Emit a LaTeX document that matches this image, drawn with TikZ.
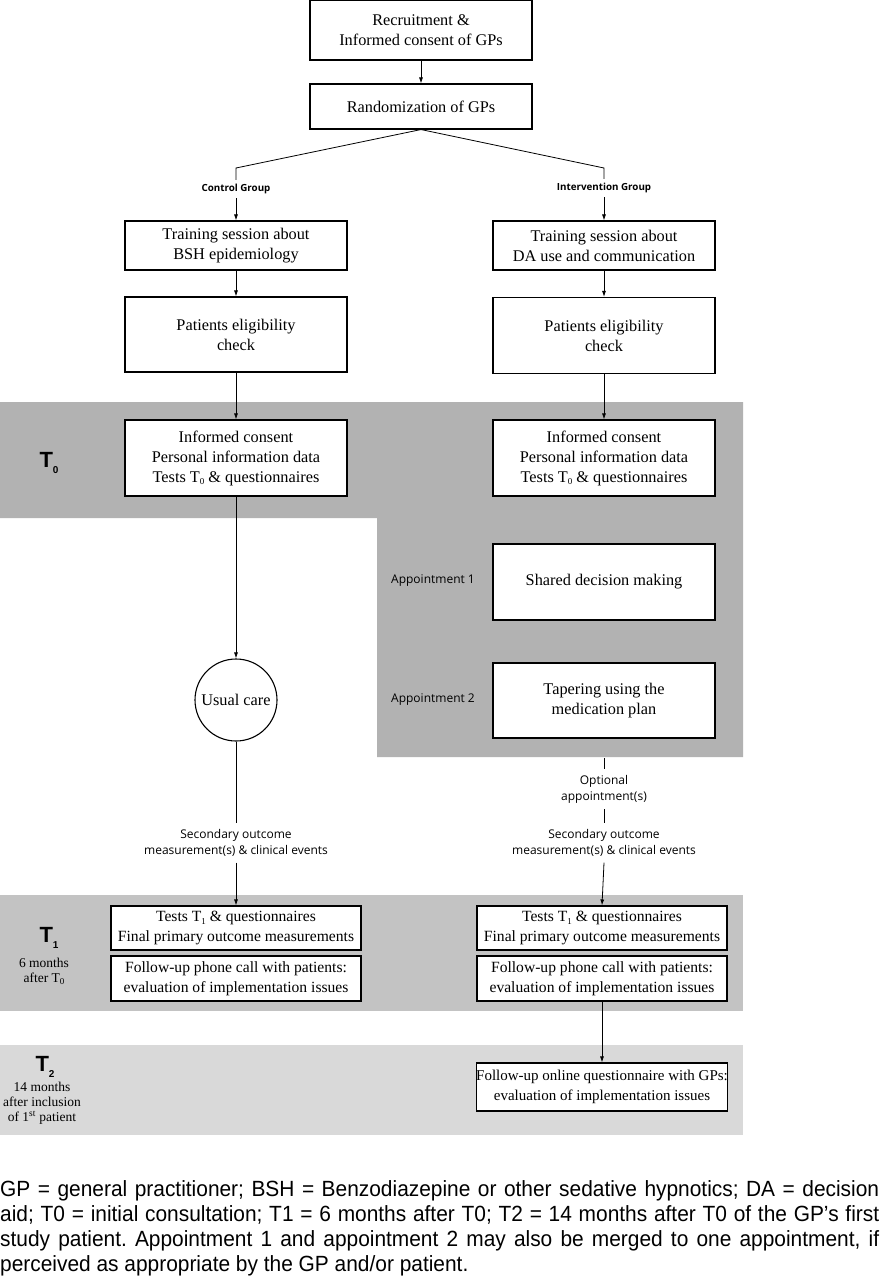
\documentclass[tikz,border=0pt]{standalone}
\usepackage{fontspec}
\setmainfont{Liberation Serif}
\newfontfamily\lblfont{Open Sans}
\newfontfamily\tfont{Liberation Sans}
\newfontfamily\footfont[FakeStretch=0.95]{Liberation Sans}
\usetikzlibrary{arrows.meta}
\definecolor{bandA}{RGB}{178,178,178}
\definecolor{bandB}{RGB}{195,195,195}
\definecolor{bandC}{RGB}{217,217,217}
\newcommand{\lowidx}[1]{\raisebox{-0.35ex}{\fontsize{9}{9}\selectfont #1}}
\begin{document}
\begin{tikzpicture}[x=1pt,y=-1pt,
  box/.style={draw, line width=1.1pt, fill=white, align=center, inner sep=0pt,
    font=\fontsize{16.3}{20}\selectfont},
  wbox/.style={box, minimum width=222pt},
  tbox/.style={box, minimum width=250pt, font=\fontsize{15.6}{20}\selectfont},
  lbl/.style={align=center, inner sep=6pt, font=\lblfont\fontsize{12}{16}\selectfont},
  grp/.style={inner sep=4pt, font=\lblfont\bfseries\fontsize{9.8}{12}\selectfont},
  conn/.style={line width=0.8pt},
  arr/.style={conn, -{Latex[length=6pt,width=4pt]}},
  tlab/.style={align=center, inner sep=0pt, font=\fontsize{13.5}{15}\selectfont},
  tbig/.style={inner sep=0pt, font=\tfont\bfseries\fontsize{22}{22}\selectfont}
]
\useasboundingbox (0,0) rectangle (879,1280);
% bands
\fill[bandA] (0,402) -- (743,402) -- (743,757) -- (377,757) -- (377,518) -- (0,518) -- cycle;
\fill[bandB] (0,895) rectangle (743,1011);
\fill[bandC] (0,1045) rectangle (743,1135);

% top
\node[wbox, minimum height=60pt] (rec) at (421,30) {Recruitment \&\\Informed consent of GPs};
\node[wbox, minimum height=45pt] (rand) at (421,106.5) {Randomization of GPs};

\node[grp] (cg) at (236,189) {Control Group};
\node[grp] (ig) at (604,188) {Intervention Group};
\coordinate (cgk) at (236,168);
\coordinate (igk) at (604,168);

\node[wbox, minimum height=49pt] (tr1) at (236,245.5) {Training session about\\BSH epidemiology};
\node[wbox, minimum height=49pt] (tr2) at (604,245.5) {Training session about\\DA use and communication};
\node[wbox, minimum height=75pt] (el1) at (236,334.5) {Patients eligibility\\check};
\node[wbox, minimum height=76pt] (el2) at (604,335.5) {Patients eligibility\\check};
\node[wbox, minimum height=76pt] (t01) at (236,458) {Informed consent\\Personal information data\\Tests T\lowidx{0} \& questionnaires};
\node[wbox, minimum height=76pt] (t02) at (604,458) {Informed consent\\Personal information data\\Tests T\lowidx{0} \& questionnaires};

\node[wbox, minimum height=76pt] (sdm) at (604,582) {Shared decision making};
\node[wbox, minimum height=75pt] (tap) at (604,700.5) {Tapering using the\\medication plan};
\node[lbl] (app1) at (433,581) {Appointment 1};
\node[lbl] (app2) at (433,700) {Appointment 2};

\node[circle, draw, line width=1.1pt, fill=white, minimum size=82pt, inner sep=0pt,
  font=\fontsize{16.3}{20}\selectfont] (uc) at (236,700) {Usual care};

\coordinate (bandbot) at (604,758);
\node[lbl] (opt) at (604,789) {Optional\\appointment(s)};
\node[lbl] (sec1) at (236,843) {Secondary outcome\\measurement(s) \& clinical events};
\node[lbl] (sec2) at (604,843) {Secondary outcome\\measurement(s) \& clinical events};

\node[tbox, minimum height=44pt] (t11) at (236,928) {Tests T\lowidx{1} \& questionnaires\\Final primary outcome measurements};
\node[tbox, minimum height=45pt] (t12) at (236,978.5) {Follow-up phone call with patients:\\evaluation of implementation issues};
\node[tbox, minimum height=44pt] (t21) at (602,928) {Tests T\lowidx{1} \& questionnaires\\Final primary outcome measurements};
\node[tbox, minimum height=45pt] (t22) at (602,978.5) {Follow-up phone call with patients:\\evaluation of implementation issues};
\node[tbox, minimum height=48pt, font=\fontsize{15}{20}\selectfont] (onl) at (602,1087) {Follow-up online questionnaire with GPs:\\evaluation of implementation issues};

% time labels
\node[tbig] (T0) at (49,463) {T\raisebox{-0.5ex}{\fontsize{10}{10}\selectfont 0}};
\node[tbig] (T1) at (49,938) {T\raisebox{-0.5ex}{\fontsize{10}{10}\selectfont 1}};
\node[tlab] (T1t) at (44,971) {6 months\\after T\lowidx{0}};
\node[tbig] (T2) at (45,1067) {T\raisebox{-0.5ex}{\fontsize{10}{10}\selectfont 2}};
\node[tlab] (T2t) at (42,1103) {14 months\\after inclusion\\of 1\textsuperscript{st} patient};

% connectors
\draw[arr] (rec.south) -- (rand.north);
\draw[conn] (rand.south) -- (cgk) -- (cg.north);
\draw[conn] (rand.south) -- (igk) -- (ig.north);
\draw[arr] (cg.south) -- (tr1.north);
\draw[arr] (ig.south) -- (tr2.north);
\draw[arr] (tr1.south) -- (el1.north);
\draw[arr] (tr2.south) -- (el2.north);
\draw[arr] (el1.south) -- (t01.north);
\draw[arr] (el2.south) -- (t02.north);
\draw[arr] (t01.south) -- (uc.north);
\draw[conn] (uc.south) -- (sec1.north);
\draw[arr] (sec1.south) -- (t11.north);
\draw[conn] (bandbot) -- (opt.north);
\draw[conn] (opt.south) -- (sec2.north);
\draw[arr] (sec2.south) -- (t21.north);
\draw[arr] (t22.south) -- (onl.north);

% footer
\node[anchor=north west, inner sep=0pt, text width=879pt, align=justify,
  font=\footfont\fontsize{22}{25}\selectfont\frenchspacing] (foot) at (0,1180)
{GP = general practitioner; BSH = Benzodiazepine or other sedative hypnotics; DA = decision\linebreak
aid; T0 = initial consultation; T1 = 6 months after T0; T2 = 14 months after T0 of the GP’s first\linebreak
study patient. Appointment 1 and appointment 2 may also be merged to one appointment, if\linebreak
perceived as appropriate by the GP and/or patient.};
\end{tikzpicture}
\end{document}
